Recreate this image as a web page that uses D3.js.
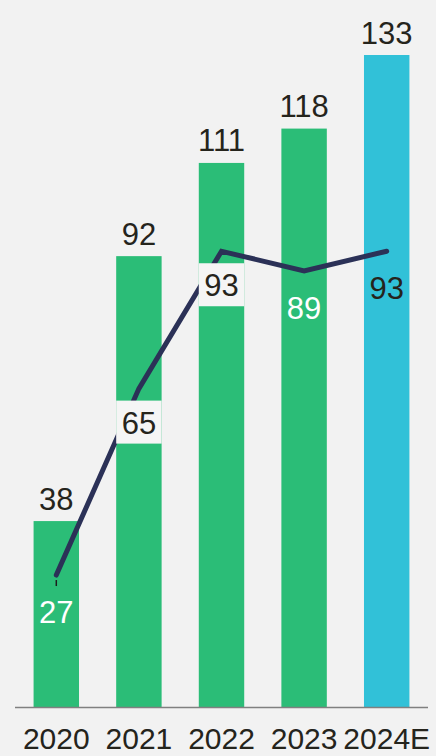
<!DOCTYPE html>
<html>
<head>
<meta charset="utf-8">
<script src="https://cdn.jsdelivr.net/npm/d3@7/dist/d3.min.js"></script>
<style>
  html, body { margin: 0; padding: 0; background: #f2f2f2; }
  svg { display: block; }
  text { font-family: "Liberation Sans", Arial, Helvetica, sans-serif; }
</style>
</head>
<body>
<div id="chart"></div>
<script>
// ---- data ----
const categories = ["2020", "2021", "2022", "2023", "2024E"];
const barValues = [38, 92, 111, 118, 133];
const lineValues = [27, 65, 93, 89, 93];
const estimateCategories = ["2024E"];

// ---- drawing ----
const W = 436, H = 756;
const svg = d3.select("#chart").append("svg")
  .attr("width", W).attr("height", H)
  .style("background", "#f2f2f2");

const baseY = 707.5;
const x = d3.scaleBand().domain(categories).range([15, 428])
  .paddingInner(0.45).paddingOuter(0.225);
const y = d3.scaleLinear().domain([0, 133]).range([baseY, 55]);

const green = "#2bbd77", blue = "#31c1d8", ink = "#25241c", navy = "#2b3157";
const fs = 31;

const rows = categories.map((c, i) => ({ c, bar: barValues[i], line: lineValues[i], i }));

// bars
svg.append("g").selectAll("rect").data(rows).join("rect")
  .attr("x", d => x(d.c))
  .attr("y", d => y(d.bar))
  .attr("width", x.bandwidth())
  .attr("height", d => y(0) - y(d.bar))
  .attr("fill", d => estimateCategories.includes(d.c) ? blue : green);

// bar value labels
svg.append("g").selectAll("text").data(rows).join("text")
  .attr("x", d => x(d.c) + x.bandwidth() / 2)
  .attr("y", d => y(d.bar) - 11.5)
  .attr("text-anchor", "middle")
  .attr("font-size", fs)
  .attr("fill", ink)
  .text(d => d.bar);

// small leader tick under first point
const first = rows[0];
svg.append("line")
  .attr("x1", x(first.c) + x.bandwidth() / 2).attr("x2", x(first.c) + x.bandwidth() / 2)
  .attr("y1", y(first.line) + 5).attr("y2", y(first.line) + 11)
  .attr("stroke", "#1d1d1d").attr("stroke-width", 1.5);

// line
const line = d3.line()
  .x(d => x(d.c) + x.bandwidth() / 2)
  .y(d => y(d.line));
svg.append("path").datum(rows)
  .attr("d", line)
  .attr("fill", "none")
  .attr("stroke", navy)
  .attr("stroke-width", 5)
  .attr("stroke-linejoin", "miter")
  .attr("stroke-linecap", "round");

// line value labels
const boxed = new Set(["2021", "2022"]);
const whiteText = new Set(["2020", "2023"]);
const lbl = svg.append("g");
rows.forEach(d => {
  const cx = x(d.c) + x.bandwidth() / 2;
  const base = y(d.line) + (boxed.has(d.c) ? 45 : 48);
  if (boxed.has(d.c)) {
    lbl.append("rect")
      .attr("x", x(d.c)).attr("y", base - 33)
      .attr("width", x.bandwidth()).attr("height", 43)
      .attr("fill", "#f5f5f5");
  }
  lbl.append("text")
    .attr("x", cx).attr("y", base)
    .attr("text-anchor", "middle")
    .attr("font-size", fs)
    .attr("fill", whiteText.has(d.c) ? "#ffffff" : ink)
    .text(d.line);
});

// baseline axis
const axis = svg.append("g").attr("transform", `translate(0,${baseY})`)
  .call(d3.axisBottom(x).tickSize(0).tickPadding(0));
axis.select(".domain").attr("stroke", "#808080").attr("stroke-width", 1.6)
  .attr("d", "M15,0H428");
axis.selectAll(".tick text")
  .attr("y", 41.5).attr("dy", null)
  .attr("font-size", 30)
  .attr("font-family", "'Liberation Sans', Arial, sans-serif")
  .attr("fill", ink);
</script>
</body>
</html>
